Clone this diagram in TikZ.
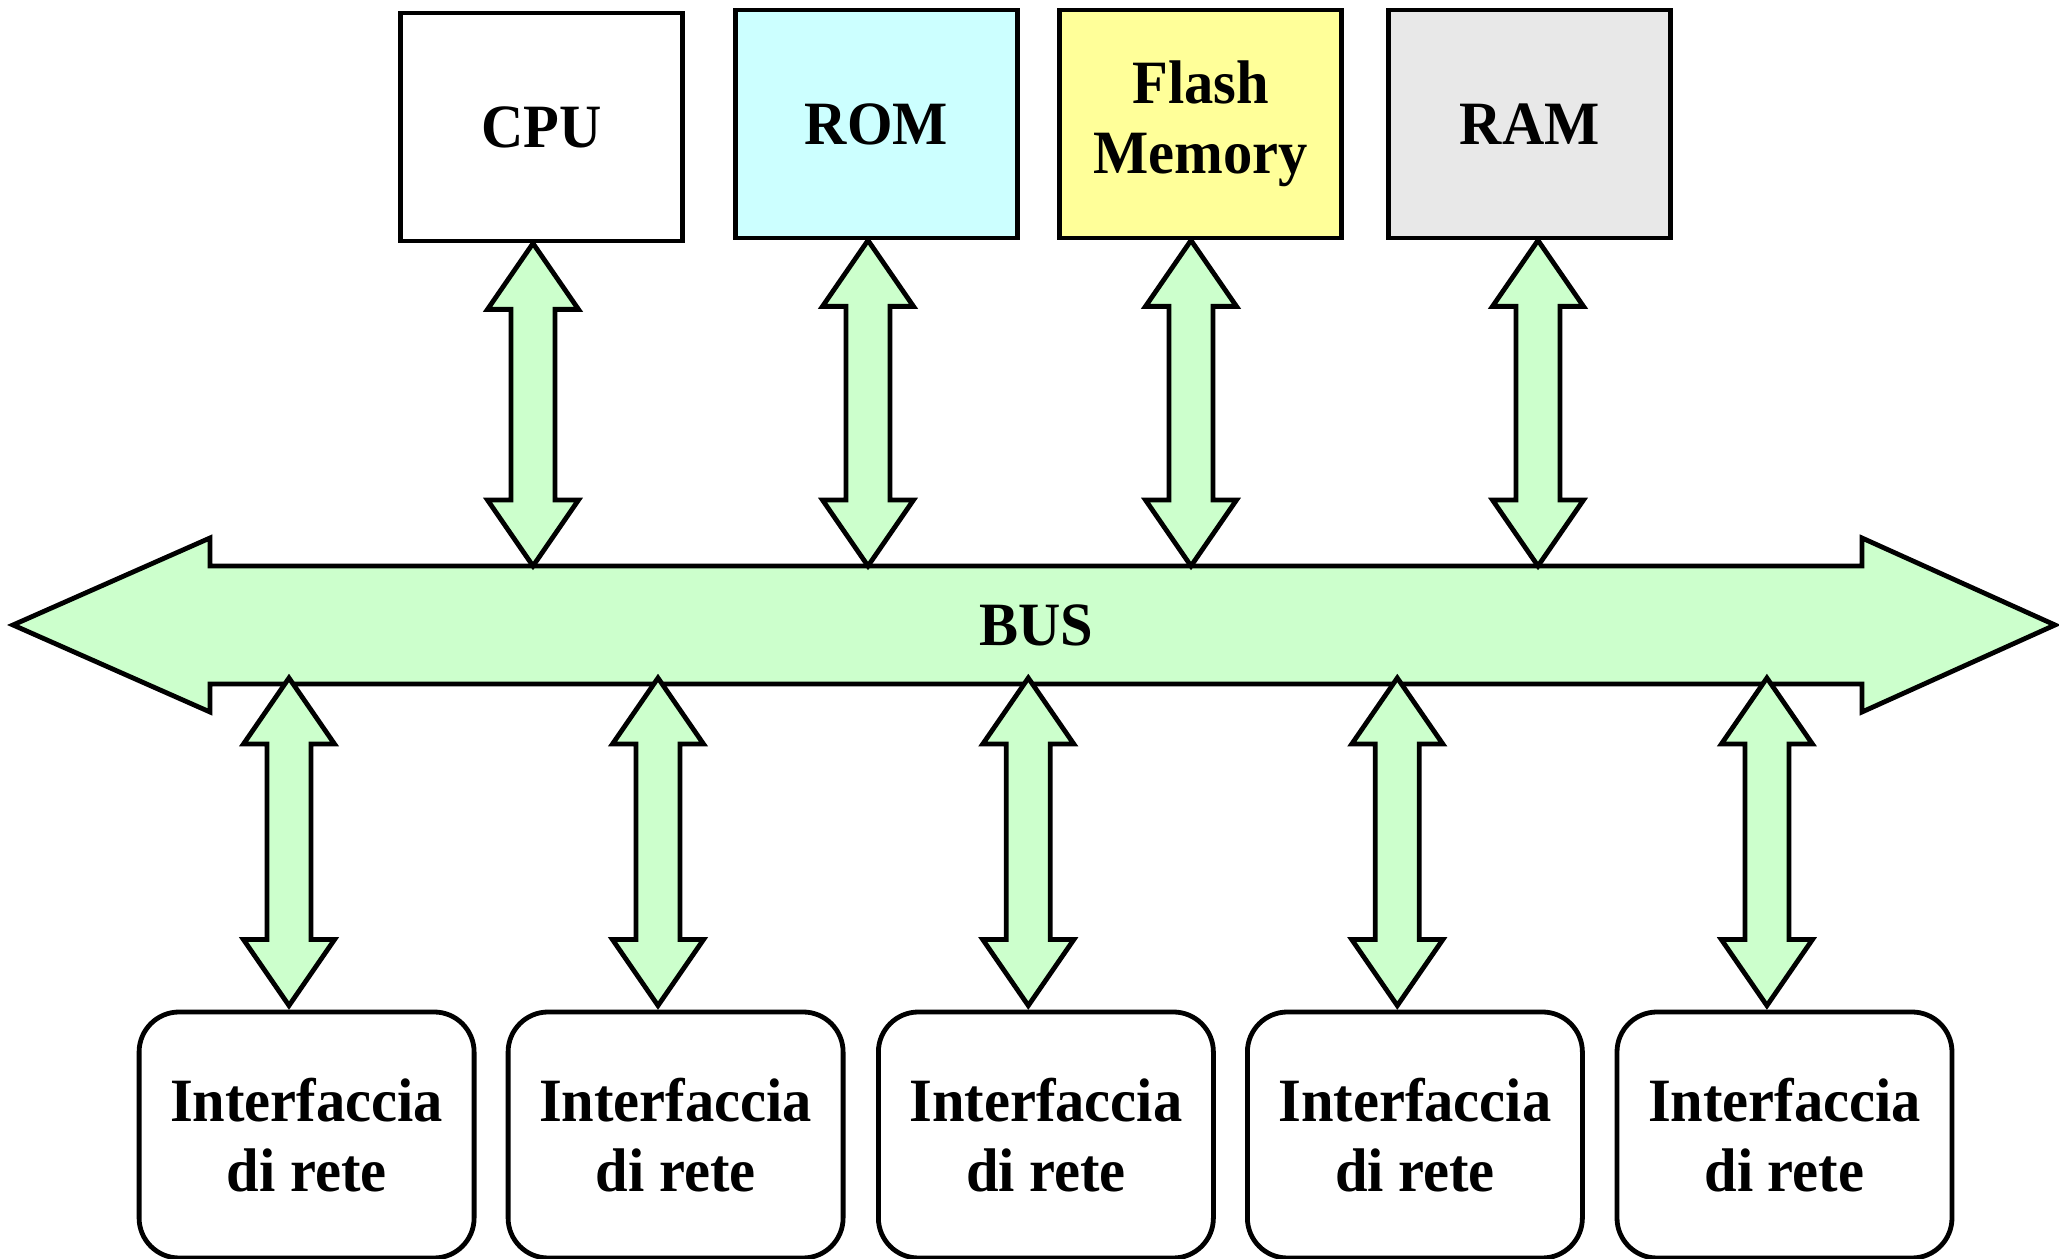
\documentclass[tikz,border=0pt]{standalone}
\usepackage{fontspec}
\setmainfont{Liberation Serif}[FakeStretch=0.95]
\usetikzlibrary{calc,backgrounds}

\definecolor{busgreen}{RGB}{204,255,204}
\definecolor{romcyan}{RGB}{204,255,255}
\definecolor{flashyellow}{RGB}{255,255,153}
\definecolor{ramgray}{RGB}{232,232,232}

\tikzset{
  txt/.style={font=\fontsize{15.4}{17.6}\selectfont\bfseries},
  unit/.style={txt, draw, line width=1.2pt, minimum width=70.5pt, minimum height=57pt, align=center},
  iface/.style={unit, rounded corners=10pt, minimum width=83.75pt, minimum height=61.5pt},
  link/.style={draw, line width=1.2pt, fill=busgreen, line join=miter},
}

% double arrow from #1 (upper tip) down to #2 (lower tip)
\newcommand{\vlink}[2]{%
  \path[link] (#1) -- ++(45.5,66) -- ++(-23.5,0) -- ($(#2)+(22,-66)$)
    -- ($(#2)+(45.5,-66)$) -- (#2) -- ($(#2)+(-45.5,-66)$)
    -- ($(#2)+(-22,-66)$) -- ($(#1)+(-22,66)$) -- ($(#1)+(-45.5,66)$) -- cycle;}

\begin{document}
\begin{tikzpicture}[x=0.25pt,y=-0.25pt]
     \useasboundingbox (0,0) rectangle (2059,1259);

     \path (541.6,127) node[unit] (cpu) {CPU};
     \path (876.5,124) node[unit, fill=romcyan] (rom) {ROM};
     \path (1200.8,124) node[unit, fill=flashyellow] (flash) {Flash\\Memory};
     \path (1529.8,124) node[unit, fill=ramgray] (ram) {RAM};

     \path (1036,625) node[txt, minimum width=413pt, minimum height=29.5pt, inner sep=0pt, outer sep=0pt] (bus) {BUS};
     \begin{scope}[on background layer]
       \path[link] (bus.north west) -- ++(0,-28) -- ($(bus.west)+(-197,0)$)
         -- ($(bus.south west)+(0,28)$) -- (bus.south west) -- (bus.south east)
         -- ++(0,28) -- ($(bus.east)+(193,0)$) -- ($(bus.north east)+(0,-28)$)
         -- (bus.north east) -- cycle;
     \end{scope}

     \path (306.6,1135) node[iface] (if1) {Interfaccia\\di rete};
     \path (675.6,1135) node[iface] (if2) {Interfaccia\\di rete};
     \path (1045.9,1135) node[iface] (if3) {Interfaccia\\di rete};
     \path (1414.9,1135) node[iface] (if4) {Interfaccia\\di rete};
     \path (1784.5,1135) node[iface] (if5) {Interfaccia\\di rete};

     % links to the bus
     \foreach \n/\dx in {cpu/-8.6, rom/-8.5, flash/-9.8, ram/8.2} {
       \coordinate (\n-t) at ($(\n.south)+(\dx,0)$);
       \coordinate (\n-b) at (\n-t |- bus.north);
       \vlink{\n-t}{\n-b}
     }
     \foreach \n in {if1,if2,if3,if4,if5} {
       \coordinate (\n-b) at ($(\n.north)+(-17.6,-4)$);
       \coordinate (\n-t) at ($(\n-b |- bus.south)+(0,-6)$);
       \vlink{\n-t}{\n-b}
     }

   \end{tikzpicture}
\end{document}
